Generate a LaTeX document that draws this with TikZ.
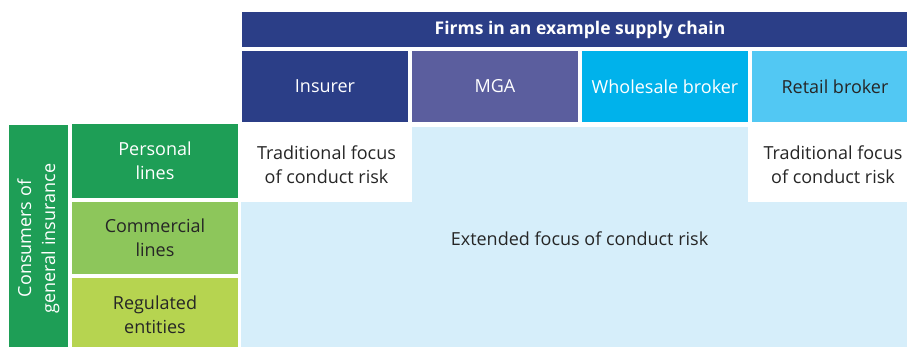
\documentclass[tikz,border=0pt]{standalone}
\usepackage{fontspec}
\setmainfont{Open Sans}
\usetikzlibrary{positioning}
\definecolor{cnavy}{HTML}{2B3E87}
\definecolor{cmga}{HTML}{5B5E9E}
\definecolor{cwhole}{HTML}{00B2EB}
\definecolor{cretail}{HTML}{52C8F3}
\definecolor{cpale}{HTML}{D6EEFA}
\definecolor{cgreen}{HTML}{1E9E56}
\definecolor{ccomm}{HTML}{8DC65B}
\definecolor{creg}{HTML}{B6D450}
\definecolor{ctext}{HTML}{262626}
\tikzset{
  cell/.style={rectangle, inner sep=0pt, align=center, text=ctext,
               font=\fontsize{18}{24}\selectfont},
  hdr/.style={cell, fill=cnavy, text=white, minimum width=676pt, minimum height=35pt,
              font=\bfseries\fontsize{17.5}{24}\selectfont},
  firm/.style={cell, minimum width=166pt, minimum height=71pt},
  seg/.style={cell, minimum width=166pt, minimum height=74pt},
  focus/.style={cell, fill=white, minimum height=75pt}
}

\begin{document}
\begin{tikzpicture}[x=1pt, y=-1pt]

\useasboundingbox (0,0) rectangle (907,347);
\clip (0,0) rectangle (907,347);

% supply chain header and firms
\node[hdr] (chain) at (580,29.5) {Firms in an example supply chain};
\node[firm, fill=cnavy, text=white] (insurer) at (325,86.5) {Insurer};
\node[firm, fill=cmga, text=white] (mga) at (495,86.5) {MGA};
\node[firm, fill=cwhole, text=white] (whole) at (665,86.5) {Wholesale broker};
\node[firm, fill=cretail] (retail) at (835,86.5) {Retail broker};

% focus areas
\node[cell, fill=cpale, minimum width=677pt, minimum height=224pt] (ext) at (579.5,239)
  {Extended focus of conduct risk};
\node[focus, minimum width=171pt] (tradA) at (326.5,164.5) {Traditional focus\\of conduct risk};
\node[focus, minimum width=170pt] (tradB) at (833,164.5) {Traditional focus\\of conduct risk};

% consumers
\node[cell, fill=cgreen, text=white, rotate=90, minimum width=227pt, minimum height=59pt]
  (consumers) at (38.5,238.5) {Consumers of\\general insurance};
\node[seg, fill=cgreen, text=white] (personal) at (155,161) {Personal\\lines};
\node[seg, fill=ccomm, minimum height=72pt] (commercial) at (155,238) {Commercial\\lines};
\node[seg, fill=creg] (regulated) at (155,315) {Regulated\\entities};

\end{tikzpicture}
\end{document}
